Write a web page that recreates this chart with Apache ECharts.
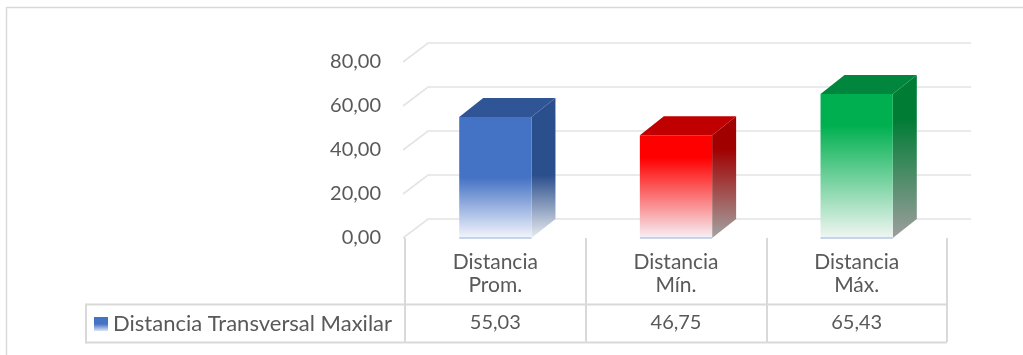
<!DOCTYPE html>
<html><head><meta charset="utf-8">
<script src="https://cdn.jsdelivr.net/npm/echarts@6/dist/echarts.min.js"></script>
<style>html,body{margin:0;padding:0;background:#fff}#c{width:1023px;height:355px}</style>
</head><body><div id="c"></div>
<script>
// ---- data ----
const categories = ['Distancia\nProm.', 'Distancia\nMín.', 'Distancia\nMáx.'];
const values = [55.03, 46.75, 65.43];
const seriesName = 'Distancia Transversal Maxilar';
const yTicks = [0, 20, 40, 60, 80];

// ---- styles ----
const fmt = v => v.toFixed(2).replace('.', ',');
const FONT = 'Lato';
const TXT = '#595959';
const LINE = '#d9d9d9';
const DX = 24, DY = -19;
const palettes = [
  {front: '#4472C4', top: '#2F5597', side: '#2B4E8C', fade: '#F3F6FC', sideFade: '#E9ECF1', stop: 0.5},
  {front: '#FF0000', top: '#C00000', side: '#A00000', fade: '#F6F1F5', sideFade: '#A3A3A3', stop: 0.22},
  {front: '#00B050', top: '#00873D', side: '#007C35', fade: '#F1F6F3', sideFade: '#9E9E9E', stop: 0.22}
];
const vgrad = (stops) => ({type: 'linear', x: 0, y: 0, x2: 0, y2: 1, colorStops: stops});

const chart = echarts.init(document.getElementById('c'), null, {renderer: 'canvas'});
chart.setOption({
  animation: false,
  textStyle: {fontFamily: FONT},
  grid: {left: 405, right: 76, top: 62, bottom: 117},
  legend: {
    left: 94, top: 313, padding: 0, icon: 'rect', itemWidth: 14, itemHeight: 14, itemGap: 6,
    textStyle: {fontFamily: FONT, fontSize: 22, color: TXT, lineHeight: 22},
    data: [{name: seriesName, itemStyle: {color: vgrad([{offset: 0, color: '#4472C4'}, {offset: 0.5, color: '#4472C4'}, {offset: 1, color: '#DCE4F4'}])}}]
  },
  xAxis: [{
    type: 'category', data: categories, position: 'bottom',
    axisLine: {show: false},
    axisTick: {show: true, length: 104, lineStyle: {color: LINE, width: 2}},
    axisLabel: {fontFamily: FONT, fontSize: 21, color: TXT, lineHeight: 23, margin: 13, interval: 0}
  }, {
    type: 'category', data: values.map(fmt), position: 'bottom', offset: 0,
    axisLine: {show: false}, axisTick: {show: false},
    axisLabel: {fontFamily: FONT, fontSize: 20, color: TXT, lineHeight: 20, margin: 75, interval: 0}
  }],
  yAxis: {
    type: 'value', min: 0, max: 80, interval: 20,
    axisLine: {show: false}, axisTick: {show: false}, splitLine: {show: false},
    axisLabel: {fontFamily: FONT, fontSize: 20, color: TXT, margin: 24, formatter: fmt}
  },
  graphic: [
    {type: 'rect', shape: {x: 6.5, y: 7.5, width: 1100, height: 400}, style: {fill: null, stroke: LINE, lineWidth: 1.5}, silent: true},
    {type: 'line', shape: {x1: 86, y1: 304.5, x2: 947, y2: 304.5}, style: {stroke: LINE, lineWidth: 2}, silent: true},
    {type: 'line', shape: {x1: 86, y1: 342.5, x2: 947, y2: 342.5}, style: {stroke: LINE, lineWidth: 2}, silent: true},
    {type: 'line', shape: {x1: 86, y1: 303.5, x2: 86, y2: 343.5}, style: {stroke: LINE, lineWidth: 2}, silent: true}
  ],
  series: [{
    type: 'custom', name: 'grid', z: 1, silent: true,
    data: yTicks.map(v => [0, v]),
    renderItem(params, api) {
      const cs = params.coordSys;
      const y = api.coord([0, api.value(1)])[1];
      const x0 = cs.x - 2, x1 = cs.x + cs.width;
      return {type: 'polyline', shape: {points: [[x0, y], [x0 + DX + 1, y + DY], [x1 + DX, y + DY]]},
        style: {stroke: '#e4e4e4', lineWidth: 1.6, fill: null}};
    }
  }, {
    type: 'custom', name: seriesName, z: 3,
    itemStyle: {color: '#4472C4'},
    data: values.map((v, i) => [i, v]),
    renderItem(params, api) {
      const i = api.value(0), v = api.value(1);
      const p = palettes[i];
      const top = api.coord([i, v]);
      const base = api.coord([i, 0]);
      const bw = api.size([1, 0])[0] * 0.4;
      const l = top[0] - bw / 2, r = top[0] + bw / 2, ty = top[1], by = base[1];
      return {type: 'group', children: [
        {type: 'polygon', shape: {points: [[r, ty], [r + DX, ty + DY], [r + DX, by + DY], [r, by]]},
          style: {fill: vgrad([{offset: 0, color: p.side}, {offset: p.stop + 0.05, color: p.side}, {offset: 1, color: p.sideFade}])}},
        {type: 'polygon', shape: {points: [[l, ty], [l + DX, ty + DY], [r + DX, ty + DY], [r, ty]]},
          style: {fill: p.top}},
        {type: 'rect', shape: {x: l, y: ty, width: bw, height: by - ty},
          style: {fill: vgrad([{offset: 0, color: p.front}, {offset: p.stop, color: p.front}, {offset: 1, color: p.fade}])}},
        {type: 'line', shape: {x1: l, y1: by, x2: r, y2: by}, style: {stroke: '#B4C7E7', lineWidth: 1.5}}
      ]};
    }
  }]
});
</script></body></html>
